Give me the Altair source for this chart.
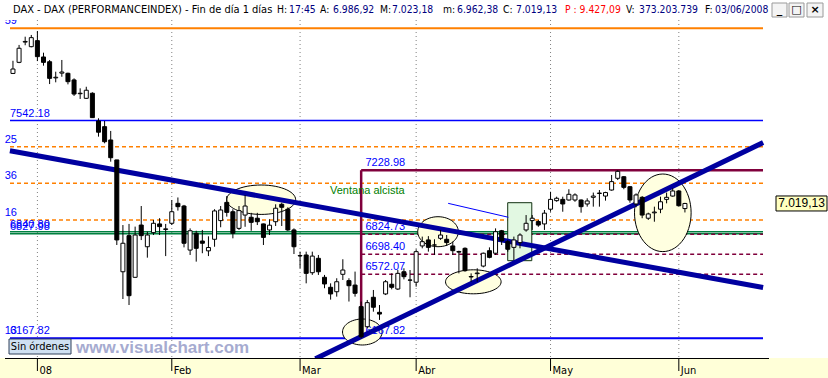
import math
import altair as alt
import pandas as pd

# ---------------- data ----------------
dates = ["2007-12-20", "2007-12-21", "2007-12-27", "2007-12-28",
         "2008-01-02", "2008-01-03", "2008-01-04", "2008-01-07", "2008-01-08", "2008-01-09",
         "2008-01-10", "2008-01-11", "2008-01-14", "2008-01-15", "2008-01-16", "2008-01-17",
         "2008-01-18", "2008-01-21", "2008-01-22", "2008-01-23", "2008-01-24", "2008-01-25",
         "2008-01-28", "2008-01-29", "2008-01-30", "2008-01-31",
         "2008-02-01", "2008-02-04", "2008-02-05", "2008-02-06", "2008-02-07", "2008-02-08",
         "2008-02-11", "2008-02-12", "2008-02-13", "2008-02-14", "2008-02-15", "2008-02-18",
         "2008-02-19", "2008-02-20", "2008-02-21", "2008-02-22", "2008-02-25", "2008-02-26",
         "2008-02-27", "2008-02-28", "2008-02-29",
         "2008-03-03", "2008-03-04", "2008-03-05", "2008-03-06", "2008-03-07", "2008-03-10",
         "2008-03-11", "2008-03-12", "2008-03-13", "2008-03-14", "2008-03-17", "2008-03-18",
         "2008-03-19", "2008-03-20", "2008-03-25", "2008-03-26", "2008-03-27", "2008-03-28",
         "2008-03-31",
         "2008-04-01", "2008-04-02", "2008-04-03", "2008-04-04", "2008-04-07", "2008-04-08",
         "2008-04-09", "2008-04-10", "2008-04-11", "2008-04-14", "2008-04-15", "2008-04-16",
         "2008-04-17", "2008-04-18", "2008-04-21", "2008-04-22", "2008-04-23", "2008-04-24",
         "2008-04-25", "2008-04-28", "2008-04-29", "2008-04-30",
         "2008-05-02", "2008-05-05", "2008-05-06", "2008-05-07", "2008-05-08", "2008-05-09",
         "2008-05-12", "2008-05-13", "2008-05-14", "2008-05-15", "2008-05-16", "2008-05-19",
         "2008-05-20", "2008-05-21", "2008-05-22", "2008-05-23", "2008-05-26", "2008-05-27",
         "2008-05-28", "2008-05-29", "2008-05-30",
         "2008-06-02", "2008-06-03"]

opens = [7840, 7910, 8038, 8009,
         8047, 7944, 7914, 7812, 7842, 7841, 7799, 7712, 7683, 7715, 7540, 7504, 7420, 7294,
         6588, 6816, 6553, 6883, 6746, 6835, 6890, 6855,
         6894, 7020, 7003, 6725, 6831, 6782, 6720, 6793, 6911, 7026, 6967, 6862, 6946, 6932,
         6926, 6890, 6852, 6904, 7014, 6983, 6852,
         6690, 6694, 6582, 6673, 6553, 6490, 6462, 6572, 6532, 6504, 6368, 6241, 6427, 6332,
         6448, 6509, 6479, 6588, 6536,
         6522, 6751, 6789, 6757, 6799, 6793, 6751, 6716, 6736, 6558, 6576, 6624, 6721, 6705,
         6847, 6778, 6742, 6772, 6852, 6911, 6905, 6890,
         6983, 7037, 7045, 7041, 7041, 7041, 7016, 7058, 7082, 7066, 7104, 7178, 7188, 7125,
         7016, 7058, 6926, 6960, 6983, 7045, 7066,
         7098, 6986.92]
highs = [7920, 8020, 8072, 8083,
         8108, 7971, 7925, 7851, 7925, 7845, 7809, 7746, 7756, 7721, 7557, 7540, 7477, 7294,
         6883, 6890, 6873, 7003, 6841, 6915, 6926, 6890,
         7040, 7057, 7010, 6862, 6847, 6852, 6812, 6983, 7003, 7066, 6983, 7003, 7072, 6960,
         6960, 6892, 6919, 7014, 7024, 6995, 6862,
         6715, 6715, 6715, 6694, 6568, 6515, 6547, 6667, 6547, 6589, 6400, 6410, 6473, 6378,
         6536, 6578, 6599, 6610, 6599,
         6730, 6810, 6813, 6793, 6852, 6820, 6778, 6721, 6742, 6578, 6610, 6709, 6742, 6862,
         6852, 6789, 6810, 6831, 6946, 6946, 6915, 6978,
         7093, 7062, 7062, 7109, 7083, 7045, 7052, 7088, 7104, 7093, 7199, 7228.98, 7192, 7129,
         7083, 7066, 6961, 6999, 7062, 7088, 7115,
         7104, 7023.18]
lows = [7838, 7905, 8018, 8005,
        7918, 7889, 7773, 7784, 7819, 7771, 7698, 7679, 7679, 7560, 7441, 7399, 7283, 6757,
        6416, 6378, 6550, 6788, 6677, 6820, 6820, 6687,
        6883, 6974, 6742, 6694, 6652, 6705, 6687, 6746, 6869, 6936, 6799, 6852, 6872, 6847,
        6883, 6757, 6820, 6877, 6877, 6846, 6700,
        6610, 6515, 6568, 6568, 6484, 6412, 6431, 6536, 6400, 6431, 6167.82, 6231, 6336, 6284,
        6441, 6477, 6473, 6540, 6427,
        6494, 6736, 6715, 6694, 6789, 6751, 6694, 6578, 6588, 6525, 6525, 6616, 6673, 6694,
        6757, 6715, 6662, 6736, 6841, 6852, 6872, 6852,
        6967, 7030, 6967, 7037, 7030, 6961, 6999, 6999, 6999, 7037, 7100, 7167, 7109, 7024,
        6995, 6926, 6915, 6904, 6958, 7020, 7062,
        6999, 6962.38]
closes = [7868, 7999, 8042, 8066,
          7946, 7910, 7809, 7816, 7849, 7788, 7710, 7715, 7734, 7561, 7469, 7409, 7308, 6789,
          6768, 6437, 6820, 6816, 6820, 6894, 6873, 6859,
          6967, 6999, 6768, 6847, 6736, 6768, 6741, 6972, 6978, 6963, 6831, 6974, 7003, 6900,
          6904, 6805, 6882, 6989, 6995, 6852, 6746,
          6688, 6578, 6687, 6588, 6511, 6448, 6525, 6599, 6500, 6452, 6178, 6393, 6364, 6321,
          6525, 6490, 6578, 6557, 6535,
          6715, 6778, 6742, 6757, 6820, 6772, 6721, 6712, 6595, 6555, 6580, 6705, 6679, 6841,
          6784, 6730, 6789, 6820, 6894, 6926, 6883, 6958,
          7045, 7052, 7016, 7077, 7073, 6999, 7035, 7066, 7085, 7088, 7157, 7222, 7121, 7041,
          7073, 6946, 6953, 6965, 7030, 7058, 7098,
          7005, 7019.13]

month_labels = {1: "08", 2: "Feb", 3: "Mar", 4: "Abr", 5: "May", 6: "Jun"}
y_ticks = [6500, 7000, 7500, 8000]

# horizontal study levels
orange_top = [8124.59]
orange_dashed = [7377.25, 7146.36, 6915.16]
orange_low = [6168.13]
blue_levels = [7542.18, 6167.82]
green_levels = [6840.80, 6827.98]
fibo_high = 7228.98
fibo_low = 6167.82
fibo_levels = [6824.73, 6698.40, 6572.07]
fibo_anchor = "2008-03-17"

# trend lines (index, price)
down_trend = [(-0.5, 7352.3), (122.8, 6488.3)]
up_trend = [(49.5, 6038.8), (122.8, 7403.7)]
thin_line = [(71.24, 7020.0), (81.1, 6932.0)]
window_box = (80.99, 84.93, 6658.0, 7024.0)
window_label = (51.9, 7098.0, "Ventana alcista")
# ellipses: centre (index, price)
ellipse_centres = [(40.63, 7042.9), (69.58, 6840.9), (75.36, 6524.6), (57.19, 6207.7), (106.38, 6960.2)]

header_time = "17:45"
header_p = "P : 9.427,09"
header_v = "373.203.739"

# ---------------- style / layout ----------------
W, H = 763, 338
x_min, x_max = -0.485, 122.78
y_min, y_max = 6043.6, 8177.4
NARROW = "Liberation Sans Narrow, Arial Narrow, DejaVu Sans Condensed, sans-serif"
SANS = "Liberation Sans, Arial, sans-serif"
NAVY = "#000080"
ORANGE = "#ff8000"
BLUE = "#0000ff"
GREEN = "#008040"
MAROON = "#80003c"
TREND = "#0000a0"
ellipse_radii = [(34.5, 14.7), (20.3, 15.0), (27.8, 12.0), (19.8, 13.0), (28.3, 38.8)]

xs = alt.Scale(domain=[x_min, x_max], nice=False, zero=False)
ys = alt.Scale(domain=[y_min, y_max], nice=False, zero=False)


def sp_num(v, dec=2):
    s = f"{v:,.{dec}f}"
    return s.replace(",", "#").replace(".", ",").replace("#", ".")


idx = list(range(len(dates)))
candles = pd.DataFrame({"i": idx, "O": opens, "H": highs, "L": lows, "C": closes, "date": dates})

# month ticks from dates
tick_idx, tick_lab = [], []
for k in range(1, len(dates)):
    if dates[k][5:7] != dates[k - 1][5:7]:
        tick_idx.append(k)
        tick_lab.append(month_labels[int(dates[k][5:7])])
ticks_df = pd.DataFrame({"t": tick_idx, "lab": tick_lab})
ylab_expr = ("datum.value == 7000 ? '' : replace(replace(replace(format(datum.value, ',.2f'), ',', '#'), '.', ','), '#', '.')")

X = lambda f: alt.X(f, scale=xs, axis=None)
Y = lambda f: alt.Y(f, scale=ys, axis=None)

layers = []

# bottom strip (decoration)
one = pd.DataFrame({"a": [0]})
layers.append(alt.Chart(one).mark_rect(fill="#ffffd8").encode(
    x=alt.value(-5), x2=alt.value(823), y=alt.value(H), y2=alt.value(H + 20)))

# vertical dotted grid
layers.append(alt.Chart(ticks_df).mark_rule(
    color="#808080", strokeDash=[1, 3], strokeWidth=1).encode(x=X("t:Q")))

# horizontal lines
def hlines(vals, x0, x1, color, width, dash=None):
    df = pd.DataFrame({"v": vals, "x0": [x0] * len(vals), "x1": [x1] * len(vals)})
    kw = dict(color=color, strokeWidth=width)
    if dash:
        kw["strokeDash"] = dash
    return alt.Chart(df).mark_rule(**kw).encode(x=X("x0:Q"), x2="x1:Q", y=Y("v:Q"))

fibo_i = dates.index(fibo_anchor)
layers += [
    hlines(orange_low, x_min, x_max, ORANGE, 1),
    hlines(orange_top, x_min, x_max, ORANGE, 2),
    hlines(orange_dashed, x_min, x_max, ORANGE, 1.6, [4, 3]),
    hlines(blue_levels[:1], x_min, x_max, BLUE, 1.5),
    hlines(green_levels, x_min, x_max, GREEN, 1.5),
    hlines(fibo_levels, fibo_i, x_max, MAROON, 1.5, [4, 3]),
    hlines(blue_levels[1:], x_min, x_max, BLUE, 2),
    hlines([fibo_high], fibo_i, x_max, MAROON, 2.5),
]
layers.append(alt.Chart(pd.DataFrame({"i": [fibo_i], "a": [fibo_low], "b": [fibo_high]})).mark_rule(
    color=MAROON, strokeWidth=2.5).encode(x=X("i:Q"), y=Y("a:Q"), y2="b:Q"))

# ellipses and window box
def ellipse_path(rx, ry, n=60):
    m = max(rx, ry)
    a, b = rx / m, ry / m
    pts = [(a * math.cos(2 * math.pi * k / n), b * math.sin(2 * math.pi * k / n)) for k in range(n)]
    return "M" + " L".join(f"{x:.4f},{y:.4f}" for x, y in pts) + " Z", (2 * m) ** 2

for (ci, cv), (rx, ry) in zip(ellipse_centres, ellipse_radii):
    path, size = ellipse_path(rx, ry)
    layers.append(alt.Chart(pd.DataFrame({"i": [ci], "v": [cv]})).mark_point(
        shape=path, size=size, filled=True, fill="#ffffe0", fillOpacity=1,
        stroke="black", strokeWidth=1, opacity=1).encode(x=X("i:Q"), y=Y("v:Q")))

bx0, bx1, by0, by1 = window_box
layers.append(alt.Chart(pd.DataFrame({"a": [bx0], "b": [bx1], "c": [by0], "d": [by1]})).mark_rect(
    fill="#e2f8e2", stroke="#103010", strokeWidth=1).encode(x=X("a:Q"), x2="b:Q", y=Y("c:Q"), y2="d:Q"))

# level labels
def labels(vals, texts, xi, align, color=BLUE, clip=False):
    df = pd.DataFrame({"v": vals, "t": texts, "i": [xi] * len(vals)})
    return alt.Chart(df).mark_text(align=align, baseline="bottom", dy=-2, font=SANS, fontSize=11,
                                   color=color, clip=clip).encode(x=X("i:Q"), y=Y("v:Q"), text="t:N")

orange_all = orange_top + orange_dashed + orange_low
layers.append(labels(orange_all, [f"{v:.2f}" for v in orange_all], 0.66, "right", clip=True))
left_vals = blue_levels + green_levels
layers.append(labels(left_vals, [f"{v:.2f}" for v in left_vals], x_min, "left"))
fib_vals = [fibo_high] + fibo_levels + [fibo_low]
layers.append(labels(fib_vals, [f"{v:.2f}" for v in fib_vals], fibo_i + 0.7, "left"))

wl = window_label
layers.append(alt.Chart(pd.DataFrame({"i": [wl[0]], "v": [wl[1]], "t": [wl[2]]})).mark_text(
    align="left", baseline="middle", font=SANS, fontSize=11, color="#008000").encode(
    x=X("i:Q"), y=Y("v:Q"), text="t:N"))

# trend lines
def tline(pts, color, width):
    df = pd.DataFrame({"i": [p[0] for p in pts], "v": [p[1] for p in pts]})
    return alt.Chart(df).mark_line(color=color, strokeWidth=width, clip=True, strokeCap="butt").encode(
        x=X("i:Q"), y=Y("v:Q"))

layers += [tline(thin_line, BLUE, 1), tline(down_trend, TREND, 5), tline(up_trend, TREND, 5)]

# candles
y_axis = alt.Axis(orient="right", values=y_ticks, labelExpr=ylab_expr, grid=True, gridColor="#808080",
                  gridDash=[1, 3], gridWidth=1, title=None, domainColor="black", tickColor="black",
                  tickSize=6, labelPadding=1, labelColor=NAVY, labelFont=SANS, labelFontSize=12,
                  labelBaseline="middle", domainWidth=1)

wicks = alt.Chart(candles).mark_rule(color="black", strokeWidth=1).encode(
    x=X("i:Q"), y=alt.Y("L:Q", scale=ys, axis=y_axis), y2="H:Q")
bodies = alt.Chart(candles).mark_bar(size=4, stroke="black", strokeWidth=1).encode(
    x=X("i:Q"), y=Y("O:Q"), y2="C:Q",
    fill=alt.condition("datum.C >= datum.O", alt.value("white"), alt.value("black")))
layers += [wicks, bodies]

# time axis (domain line, ticks and month labels on the x scale)
layers.append(alt.Chart(one).mark_rule(color="black", strokeWidth=1).encode(
    x=alt.value(0), x2=alt.value(W + 1), y=alt.value(H + 0.5)))
layers.append(alt.Chart(ticks_df).mark_rule(color="black", strokeWidth=1).encode(
    x=X("t:Q"), y=alt.value(H), y2=alt.value(H + 13)))
layers.append(alt.Chart(ticks_df).mark_text(
    align="left", baseline="top", dx=2, font=NARROW, fontSize=11, color="black").encode(
    x=X("t:Q"), y=alt.value(H + 7), text="lab:N"))

# price tag
last_c = closes[-1]
tag_path = "M-1,-0.294 L1,-0.294 L1,0.294 L-1,0.294 Z"
layers.append(alt.Chart(pd.DataFrame({"v": [last_c]})).mark_point(
    shape=tag_path, size=51 * 51, filled=True, fill="#ffffc0", fillOpacity=1, stroke="black",
    strokeWidth=1, opacity=1, clip=False).encode(x=alt.value(796.5), y=Y("v:Q")))
layers.append(alt.Chart(pd.DataFrame({"v": [last_c], "t": [sp_num(last_c)]})).mark_text(
    font=SANS, fontSize=12, color="black", align="center", baseline="middle").encode(
    x=alt.value(796.5), y=Y("v:Q"), text="t:N"))

# header bar
last_date = dates[-1]
hdr_text = ["DAX - DAX (PERFORMANCEINDEX) - Fin de día 1 días", "H:", header_time,
            "A:", sp_num(opens[-1]), "M:", sp_num(highs[-1]), "m:", sp_num(lows[-1]),
            "C:", sp_num(closes[-1]), header_p, "V:", header_v,
            "F:", f"{last_date[8:10]}/{last_date[5:7]}/{last_date[0:4]}"]
hdr_color = ["black", "black", NAVY, "black", NAVY, "black", NAVY, "black", NAVY,
             "black", NAVY, "#ff0000", "black", NAVY, "black", NAVY]
hdr_x = [13, 277, 289, 320, 333, 380, 392, 443, 457, 503, 516, 565, 626, 639, 705, 715]
hdr_fs = [11] + [10.3] * (len(hdr_text) - 1)
hdr = pd.DataFrame({"t": hdr_text, "c": hdr_color, "px": [p - 5 for p in hdr_x], "fs": hdr_fs})
layers.append(alt.Chart(hdr).mark_text(align="left", baseline="middle", font=NARROW).encode(
    x=alt.X("px:Q", scale=None), y=alt.value(-10), text="t:N", color=alt.Color("c:N", scale=None),
    size=alt.Size("fs:Q", scale=None)))

# window buttons
btn = pd.DataFrame({"x0": [767, 784, 802], "x1": [782, 799, 818], "g": ["_", "□", "×"]})
layers.append(alt.Chart(btn).mark_rect(fill="#f4f4f4", stroke="#9a9a9a", strokeWidth=1).encode(
    x=alt.X("x0:Q", scale=None), x2="x1:Q", y=alt.value(-17), y2=alt.value(-3)))
layers.append(alt.Chart(btn).transform_calculate(xc="(datum.x0 + datum.x1) / 2").mark_text(
    font="DejaVu Sans", fontSize=11, fontWeight="bold", color="black", align="center", baseline="middle").encode(
    x=alt.X("xc:Q", scale=None), y=alt.value(-10), text="g:N"))

# bottom-left box and watermark
layers.append(alt.Chart(one).mark_rect(fill="#cfe0f2", stroke="#30405a", strokeWidth=1).encode(
    x=alt.value(4), x2=alt.value(66), y=alt.value(319), y2=alt.value(334)))
layers.append(alt.Chart(pd.DataFrame({"t": ["Sin órdenes"]})).mark_text(
    font=NARROW, fontSize=11, color="black", align="center", baseline="middle").encode(
    x=alt.value(35), y=alt.value(327), text="t:N"))
layers.append(alt.Chart(pd.DataFrame({"t": ["www.visualchart.com"]})).mark_text(
    font=SANS, fontSize=17, fontWeight="bold", color="#a6abd0", align="left", baseline="middle").encode(
    x=alt.value(71), y=alt.value(328), text="t:N"))

chart = alt.layer(*layers).properties(
    width=W, height=H,
    padding={"left": 5, "top": 20, "right": 60, "bottom": 20},
    autosize=alt.AutoSizeParams(type="none"),
    background="white",
).configure_view(stroke=None)

chart.save("out.html", embed_options={"renderer": "svg", "actions": False})
